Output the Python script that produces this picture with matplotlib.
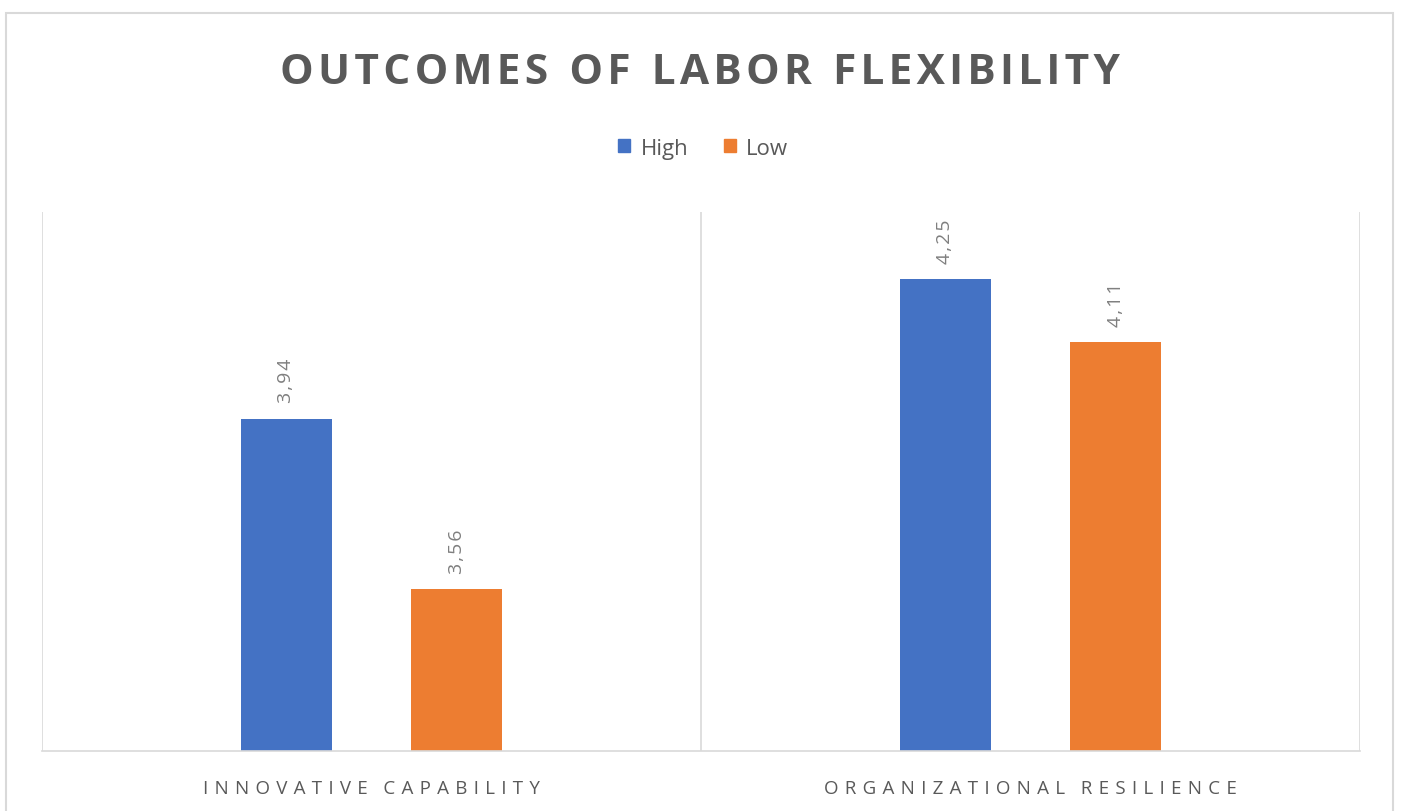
import matplotlib.pyplot as plt
from matplotlib.patches import Rectangle, Patch

categories = ['INNOVATIVE CAPABILITY', 'ORGANIZATIONAL RESILIENCE']
high = [3.94, 4.25]
low = [3.56, 4.11]
series_names = ['High', 'Low']
colors = ['#4472C4', '#ED7D31']
FONT = ['Open Sans', 'DejaVu Sans']


def spaced(s, sep='\u2009', word='\u2002'):
    # imitate the letter spacing of the Excel-style text
    return word.join(sep.join(w) for w in s.split(' '))


fig = plt.figure(figsize=(14.02, 8.12), dpi=100)
ax = fig.add_axes([42 / 1402, 60 / 812, 1318 / 1402, 539 / 812])

# outer chart border
fig.patches.append(Rectangle((6 / 1402, -0.05), 1387 / 1402, 1.05 - 14 / 812,
                             transform=fig.transFigure, fill=False,
                             edgecolor='#d9d9d9', linewidth=1.5))

x = range(len(categories))
width = 0.137
offset = 0.129
bars_h = ax.bar([i - offset for i in x], high, width, bottom=0, color=colors[0])
bars_l = ax.bar([i + offset for i in x], low, width, bottom=0, color=colors[1])

ax.set_ylim(3.2, 4.4)
ax.set_xlim(-0.5, 1.5)

for bars, vals in ((bars_h, high), (bars_l, low)):
    for b, v in zip(bars, vals):
        ax.annotate(spaced(f'{v:.2f}'.replace('.', ','), '\u200a'),
                    (b.get_x() + b.get_width() / 2, v),
                    xytext=(0, 12), textcoords='offset points',
                    rotation=90, ha='center', va='bottom',
                    fontsize=14, color='#7f7f7f', family=FONT)

for s in ['top', 'left', 'right']:
    ax.spines[s].set_visible(False)
ax.spines['bottom'].set_color('#d9d9d9')
ax.spines['bottom'].set_linewidth(1.2)
ax.set_yticks([])
ax.set_xticks(list(x))
ax.set_xticklabels([spaced(c, '\u2009\u2009', '\u2002\u2009\u2009') for c in categories],
                   fontsize=13.5, color='#595959', family=FONT)
ax.tick_params(axis='x', length=0, pad=20)
ax.set_xticks([-0.5, 0.5, 1.5], minor=True)
ax.tick_params(axis='x', which='minor', length=0)
ax.grid(True, axis='x', which='minor', color='#d9d9d9', linewidth=1.2)
ax.set_axisbelow(True)

fig.text(0.4993, 0.909, spaced('OUTCOMES OF LABOR FLEXIBILITY', '\u200a', '\u2002'),
         ha='center', va='center', fontsize=30.5, fontweight='bold', color='#595959',
         family=FONT)

handles = [Patch(color=c, label=n) for c, n in zip(colors, series_names)]
leg = fig.legend(handles=handles, loc='center', bbox_to_anchor=(0.5015, 0.8165), ncol=2,
                 frameon=False, handlelength=0.55, handleheight=0.55,
                 handletextpad=0.45, columnspacing=1.6,
                 prop={'family': 'Open Sans', 'size': 16})
for t in leg.get_texts():
    t.set_color('#595959')

fig.savefig('out.png', dpi=100)
